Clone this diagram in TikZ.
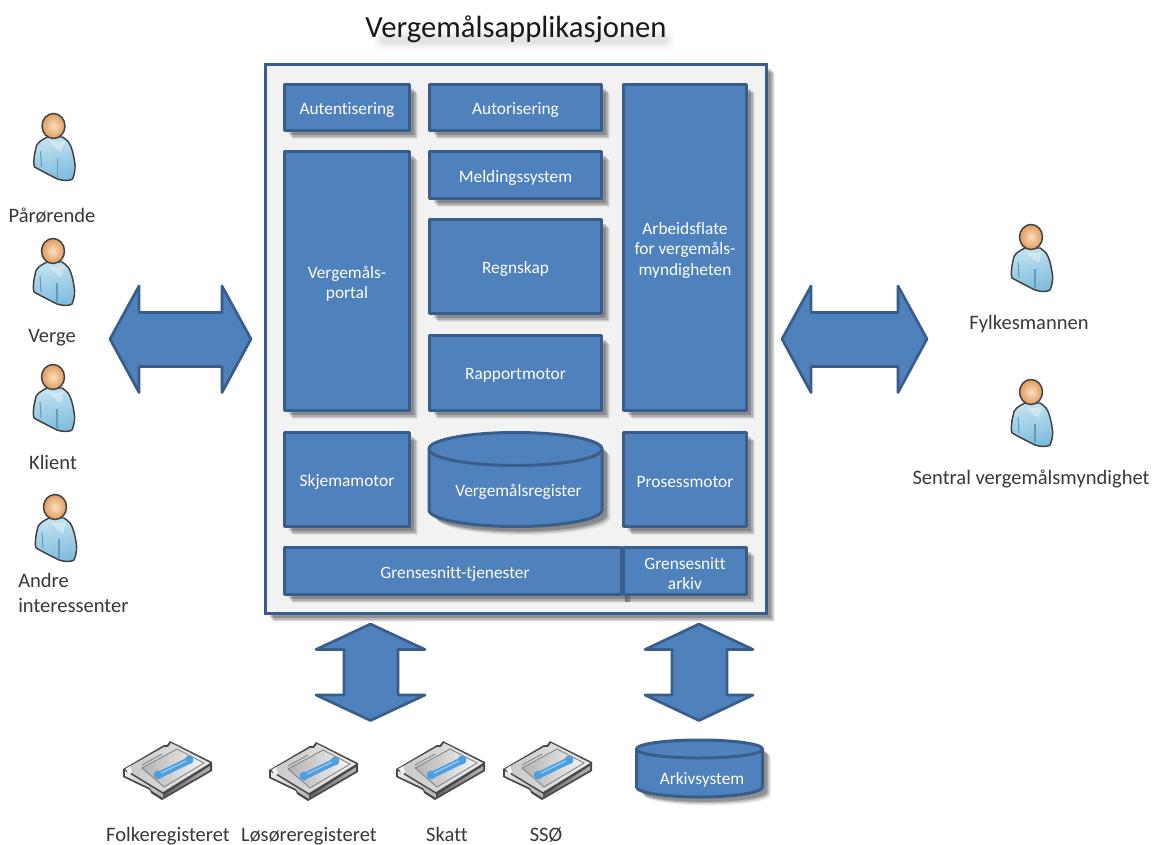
\documentclass[tikz,border=0pt]{standalone}
\usepackage{fontspec}
\setmainfont[Ligatures=NoCommon]{Carlito}
\usetikzlibrary{shadows}
\definecolor{bfill}{HTML}{4F81BD}
\definecolor{bline}{HTML}{385D8A}
\definecolor{SkyBlue}{HTML}{C3E2F0}
\definecolor{SkyDeep}{HTML}{7DBBDC}
\definecolor{SkyLine}{HTML}{5E9CC0}
\definecolor{HeadLight}{HTML}{FBE0BF}
\definecolor{HeadDeep}{HTML}{E09A5C}
\definecolor{TapeBlue}{HTML}{4C9FE0}
\tikzset{
  softshadow/.style={
    general shadow={shadow xshift=6.4pt,shadow yshift=-6.4pt,fill=black,fill opacity=.06,draw=none},
    general shadow={shadow xshift=5.5pt,shadow yshift=-5.5pt,fill=black,fill opacity=.10,draw=none},
    general shadow={shadow xshift=4.6pt,shadow yshift=-4.6pt,fill=black,fill opacity=.15,draw=none},
    general shadow={shadow xshift=3.6pt,shadow yshift=-3.6pt,fill=black,fill opacity=.20,draw=none}},
  panel/.style={draw=bline,fill=bfill,line width=2.25pt,line join=round},
  boxnode/.style={panel,softshadow,rectangle,inner sep=0pt,outer sep=0pt},
  boxlabel/.style={text=white,align=center,inner sep=0pt,font=\fontsize{13}{15.4}\selectfont},
  caption/.style={text=black!78,align=center,inner sep=0pt,font=\fontsize{15.4}{18.8}\selectfont},
  blockarrow/.style={draw=bline,fill=bfill,line width=2pt,line join=round},
  pics/person/.style={code={
    \path[draw=black!75,line width=1.1pt,line join=round,top color=SkyBlue,bottom color=SkyDeep,shading angle=10]
      (-6,11) .. controls (-12,14) and (-18,17) .. (-18,24)
      .. controls (-20,32) and (-20,38) .. (-19,41)
      .. controls (-10,46) and (-2,50) .. (4,53)
      .. controls (10,55) and (16,55) .. (19,53)
      .. controls (22,46) and (22,40) .. (21,35)
      .. controls (20,28) and (18,20) .. (15,16)
      .. controls (13,14) and (11,12) .. (9,11) -- cycle;
    \path[fill=white,fill opacity=.35] (-4,14) .. controls (2,18) and (8,16) .. (11,14) -- (8,26) .. controls (4,24) and (-2,20) .. (-4,14) -- cycle;
    \draw[SkyLine,line width=.8pt] (-13,25) -- (-12,41);
    \draw[SkyLine,line width=.8pt] (4,32) -- (4,51);
    \shade[draw=black!75,line width=1.1pt,inner color=HeadLight,outer color=HeadDeep]
      (0,0) ellipse [x radius=11.5,y radius=12.5];
  }},
  pics/tape/.style={code={
    \fill[black!72,line join=round] (-44,-1) -- (-3,-25) -- (0,-25) -- (3,-29) -- (45,-8) -- (45,1) -- (-5,30) -- (-16,23) -- (-17,20) -- (-44,7) -- cycle;
    \shade[left color=black!22,right color=black!8] (-42,-1) -- (-3,-23) -- (1,-23) -- (4,-27) -- (43,-7) -- (-4,22) -- cycle;
    \shade[left color=black!8,right color=black!30] (-42,1) -- (-4,24) -- (-4,28) -- (-15,21) -- (-17,18) -- (-42,6) -- cycle;
    \shade[left color=black!60,right color=black!30] (-2,24) -- (43,-4) -- (43,0) -- (-3,27) -- cycle;
    \shade[left color=black!30,right color=black!4,draw=black!50,line width=.6pt] (-25,-2) -- (10,-21) -- (37,-7) -- (-3,17) -- cycle;
    \draw[black!45,line width=.8pt] (-25,-5) -- (-5,-16);
    \fill[black!5] (-41,-1) -- (-37,-4) -- (-35,2) -- (-38,5) -- cycle;
    \draw[line width=5pt,TapeBlue] (-8,5) -- (21,-9);
    \fill[TapeBlue] (-9,5) circle [radius=4.4] (22,-10) circle [radius=4.4];
    \draw[line width=1pt,white!45!TapeBlue] (-6,3) -- (19,-9);
  }}
}
% box from outer pixel edges: name, x1, y1, x2, y2, text
\newcommand{\pxbox}[6]{%
  \pgfmathsetmacro{\bw}{(#4-#2-3)*0.75}%
  \pgfmathsetmacro{\bh}{(#5-#3-3)*0.75}%
  \node[boxnode,minimum width=\bw pt,minimum height=\bh pt,label={[boxlabel,yshift=-2pt]center:{#6}}] (#1) at ({(#2+#4)/2},{(#3+#5)/2}) {};}
\begin{document}
\begin{tikzpicture}[x=0.75pt,y=-0.75pt]
\useasboundingbox (0,0) rectangle (1152,845);
\fill[white] (0,0) rectangle (1152,845);

% title shadow smudge
\foreach \o/\t in {0/.02,2/.025,4/.03,6/.03}
  \fill[black,fill opacity=\t,rounded corners=4pt] (374+\o,30+\o) rectangle (674-\o,50-\o);
\node[inner sep=0pt,font=\fontsize{23}{26}\selectfont,text=black!90] (title) at (516,29) {Vergemålsapplikasjonen};

% frame
\pgfmathsetmacro{\fw}{(768-264-3)*0.75}\pgfmathsetmacro{\fh}{(615-63-3)*0.75}
\node[rectangle,draw=bline,fill=black!5,line width=2.25pt,softshadow,minimum width=\fw pt,minimum height=\fh pt,inner sep=0pt,outer sep=0pt] (frame) at (516,339) {};

\pxbox{aut}{283}{83}{411}{132}{Autentisering}
\pxbox{auto}{428}{83}{603}{132}{Autorisering}
\pxbox{flate}{622}{83}{748}{412}{Arbeidsflate\\for vergemåls-\\myndigheten}
\pxbox{portal}{283}{150}{411}{412}{Vergemåls-\\portal}
\pxbox{meld}{428}{150}{603}{200}{Meldingssystem}
\pxbox{regn}{428}{218}{603}{315}{Regnskap}
\pxbox{rapp}{428}{334}{603}{412}{Rapportmotor}
\pxbox{skj}{283}{431}{411}{528}{Skjemamotor}
\pxbox{pros}{622}{431}{748}{528}{Prosessmotor}

% register cylinder
\path[panel,softshadow] (429,449) arc [start angle=180,end angle=360,x radius=86.5,y radius=16.5] -- (602,510) arc [start angle=0,end angle=180,x radius=86.5,y radius=16.5] -- cycle;
\draw[panel,fill=none] (429,449) arc [start angle=180,end angle=0,x radius=86.5,y radius=16.5];
\node[boxlabel] (reg) at (518.5,492) {Vergemålsregister};

\fill[black,fill opacity=.35] (625,596) rectangle (631,602);
\pxbox{gtj}{283}{546}{623}{596}{\hspace*{3pt}Grensesnitt-tjenester}
\pxbox{gar}{622}{546}{748}{596}{Grensesnitt\\arkiv}

% block arrows
\path[blockarrow] (110,339) -- (139,286) -- (139,312.5) -- (222,312.5) -- (222,286) -- (251,339) -- (222,392.5) -- (222,366.5) -- (139,366.5) -- (139,392.5) -- cycle;
\path[blockarrow] (782,339) -- (811,286) -- (811,312.5) -- (898,312.5) -- (898,286) -- (927,339) -- (898,392.5) -- (898,366.5) -- (811,366.5) -- (811,392.5) -- cycle;
\path[blockarrow] (370.5,624) -- (425,649.5) -- (398,649.5) -- (398,695) -- (425,695) -- (370.5,720.5) -- (316,695) -- (344,695) -- (344,649.5) -- (316,649.5) -- cycle;
\path[blockarrow] (699,624) -- (753,649.5) -- (727,649.5) -- (727,695) -- (753,695) -- (699,720.5) -- (645,695) -- (672,695) -- (672,649.5) -- (645,649.5) -- cycle;

% archive cylinder
\path[panel,softshadow] (636.5,749) arc [start angle=180,end angle=360,x radius=63,y radius=9] -- (762.5,787) arc [start angle=0,end angle=180,x radius=63,y radius=10] -- cycle;
\draw[panel,fill=none] (636.5,749) arc [start angle=180,end angle=0,x radius=63,y radius=9];
\node[boxlabel] (ark) at (702,780) {Arkivsystem};

% people
\pic (p1) at (53.5,126) {person};
\pic (p2) at (53,251) {person};
\pic (p3) at (53,377) {person};
\pic (p4) at (55,507) {person};
\pic (p5) at (1031,237) {person};
\pic (p6) at (1031,392) {person};

\node[caption] (l1) at (52,216) {Pårørende};
\node[caption] (l2) at (52,338) {Verge};
\node[caption] (l3) at (53,462) {Klient};
\node[caption,align=left,anchor=north west] (l4) at (18,573) {Andre\\interessenter};
\node[caption] (l5) at (1029,324) {Fylkesmannen};
\node[caption] (l6) at (1031,479) {Sentral vergemålsmyndighet};

% registers
\pic (t1) at (167,770) {tape};
\pic (t2) at (313,771) {tape};
\pic (t3) at (440,770) {tape};
\pic (t4) at (547,770) {tape};
\node[caption,anchor=base] (r1) at (168,841) {Folkeregisteret};
\node[caption,anchor=base] (r2) at (309,841) {Løsøreregisteret};
\node[caption,anchor=base] (r3) at (447,841) {Skatt};
\node[caption,anchor=base] (r4) at (546,841) {SSØ};
\end{tikzpicture}
\end{document}
